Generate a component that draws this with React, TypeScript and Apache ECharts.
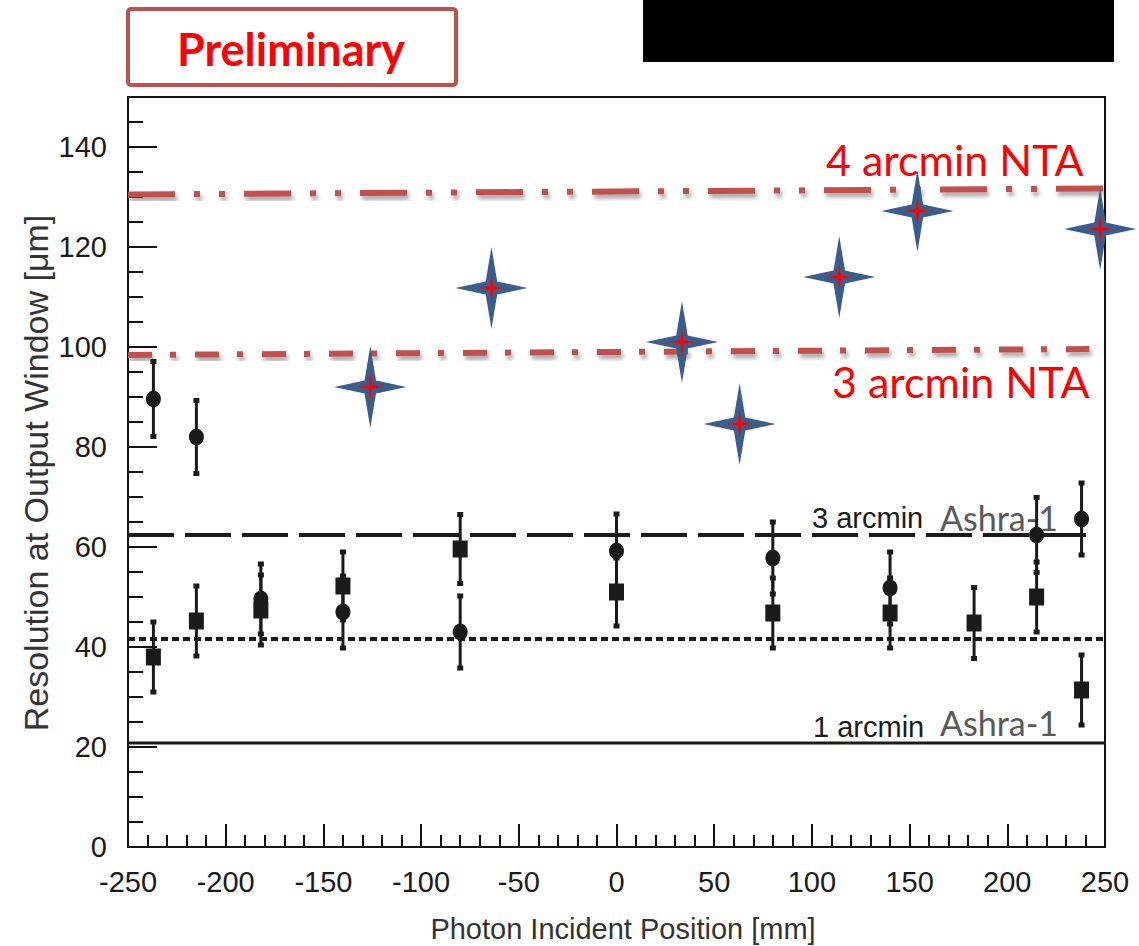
import React, { useEffect, useRef } from 'react';
import * as echarts from 'echarts';

// ---- data ----
const xMin = -250;
const xMax = 250;
const yMin = 0;
const yMax = 150;
const yMajorTicks = [0, 20, 40, 60, 80, 100, 120, 140];

const circleX = [-237, -215, -182, -140, -80, 0, 80, 140, 215, 238];
const circleY = [89.6, 82, 49.6, 47, 43, 59.2, 57.8, 51.8, 62.4, 65.6];
const circleErr = [7.5, 7.3, 7, 7.2, 7.2, 7.4, 7.2, 7.2, 7.5, 7.2];

const squareX = [-237, -215, -182, -140, -80, 0, 80, 140, 183, 215, 238];
const squareY = [38, 45.2, 47.4, 52.2, 59.6, 51, 46.8, 46.8, 44.8, 50, 31.4];
const squareErr = [7, 7, 7, 6.8, 6.9, 6.8, 7, 7, 7.1, 7, 7];

const starX = [-126, -64, 33.5, 63, 114, 154, 247.5];
const starY = [92, 111.8, 101, 84.6, 114, 127.2, 123.6];

const nta4Line = [[-250, 130.5], [250, 131.7]];
const nta3Line = [[-250, 98.4], [242, 99.6]];
const ashra3Line = [[-250, 62.4], [244.5, 62.4]];
const dottedLine = [[-250, 41.6], [250, 41.6]];
const ashra1Line = [[-250, 20.8], [250, 20.8]];

const BLUE_STAR = 'path://M50 0 L58 42 L100 50 L58 58 L50 100 L42 58 L0 50 L42 42 Z';
const RED_STAR = 'path://M50 0 L56 44 L100 50 L56 56 L50 100 L44 56 L0 50 L44 44 Z';

const SANS = "'Liberation Sans', Arial, sans-serif";
const CAL = "Lato, 'Open Sans', sans-serif";
const INK = '#1a1a1a';
const RED_LINE = '#C0504D';

function renderErr(_params: any, api: any) {
  const x = api.value(0);
  const y = api.value(1);
  const e = api.value(2);
  const top = api.coord([x, y + e]);
  const bot = api.coord([x, y - e]);
  const cw = 6;
  const ch = 5;
  return {
    type: 'group',
    children: [
      { type: 'line', shape: { x1: top[0], y1: top[1], x2: bot[0], y2: bot[1] }, style: { stroke: INK, lineWidth: 3 } },
      { type: 'rect', shape: { x: top[0] - cw / 2, y: top[1] - ch / 2, width: cw, height: ch }, style: { fill: INK } },
      { type: 'rect', shape: { x: bot[0] - cw / 2, y: bot[1] - ch / 2, width: cw, height: ch }, style: { fill: INK } },
    ],
  };
}

function lineSeries(data: number[][], color: string, width: number, dash: any, shadow: boolean) {
  return {
    type: 'line',
    data,
    symbol: 'none',
    silent: true,
    z: 1,
    lineStyle: {
      color,
      width,
      type: dash,
      cap: 'butt',
      opacity: 1,
      ...(shadow
        ? { shadowColor: 'rgba(0,0,0,0.35)', shadowBlur: 4, shadowOffsetX: 2, shadowOffsetY: 4 }
        : {}),
    },
  };
}

export default function App() {
  const ref = useRef<HTMLDivElement>(null);

  useEffect(() => {
    if (!ref.current) return;
    const chart = echarts.init(ref.current, undefined, { renderer: 'svg' });
    const tickStyle = { color: '#111', width: 2 };
    const option: any = {
      animation: false,
      backgroundColor: '#ffffff',
      grid: {
        left: 128,
        right: 34,
        top: 97,
        bottom: 99,
        show: true,
        borderColor: '#111',
        borderWidth: 2,
        backgroundColor: 'transparent',
      },
      xAxis: {
        type: 'value',
        min: xMin,
        max: xMax,
        interval: 50,
        axisLine: { show: false, onZero: false },
        axisTick: { show: true, inside: true, length: 23, lineStyle: tickStyle },
        minorTick: { show: true, splitNumber: 5, length: 12, lineStyle: tickStyle },
        splitLine: { show: false },
        axisLabel: {
          show: true,
          margin: 20,
          fontFamily: SANS,
          fontSize: 29,
          color: INK,
          showMinLabel: true,
          showMaxLabel: true,
        },
      },
      yAxis: [
        {
          type: 'value',
          min: yMin,
          max: yMax,
          interval: 5,
          position: 'left',
          axisLine: { show: false, onZero: false },
          axisTick: { show: true, inside: true, length: 15, lineStyle: tickStyle },
          splitLine: { show: false },
          axisLabel: { show: false },
        },
        {
          type: 'value',
          min: yMin,
          max: yMax,
          interval: 20,
          position: 'left',
          offset: 0,
          axisLine: { show: false, onZero: false },
          axisTick: { show: true, inside: true, length: 29, lineStyle: tickStyle },
          splitLine: { show: false },
          axisLabel: {
            show: true,
            margin: 21,
            fontFamily: SANS,
            fontSize: 29,
            color: INK,
            padding: [10, 0, 0, 0],
            formatter: (v: number) => (yMajorTicks.indexOf(v) >= 0 ? String(v) : ''),
          },
        },
      ],
      graphic: [
        { type: 'rect', shape: { x: 643, y: 0, width: 471, height: 62 }, style: { fill: '#000' } },
        {
          type: 'rect',
          shape: { x: 128, y: 9, width: 328, height: 76, r: 3 },
          style: { fill: '#fff', stroke: RED_LINE, lineWidth: 4 },
        },
        {
          type: 'text',
          x: 291,
          y: 49,
          style: {
            text: 'Preliminary',
            fontFamily: CAL,
            fontWeight: 'bold',
            fontSize: 45,
            fill: '#FF0000',
            textAlign: 'center',
            textVerticalAlign: 'middle',
          },
        },
        {
          type: 'text',
          x: 36,
          y: 473,
          rotation: Math.PI / 2,
          style: {
            text: 'Resolution at Output Window [\u03bcm]',
            fontFamily: SANS,
            fontSize: 34,
            fill: '#333',
            textAlign: 'center',
            textVerticalAlign: 'middle',
          },
        },
        {
          type: 'text',
          x: 623,
          y: 929,
          style: {
            text: 'Photon Incident Position [mm]',
            fontFamily: SANS,
            fontSize: 29,
            fill: '#333',
            textAlign: 'center',
            textVerticalAlign: 'middle',
          },
        },
        {
          type: 'text',
          x: 826,
          y: 159,
          style: { text: '4 arcmin NTA', fontFamily: CAL, fontSize: 43, fill: '#FF0000', textAlign: 'left', textVerticalAlign: 'middle' },
        },
        {
          type: 'text',
          x: 832,
          y: 381,
          style: { text: '3 arcmin NTA', fontFamily: CAL, fontSize: 43, fill: '#FF0000', textAlign: 'left', textVerticalAlign: 'middle' },
        },
        {
          type: 'text',
          x: 812,
          y: 518,
          style: { text: '3 arcmin', fontFamily: SANS, fontSize: 29, fill: INK, textAlign: 'left', textVerticalAlign: 'middle' },
        },
        {
          type: 'text',
          x: 940,
          y: 517,
          style: { text: 'Ashra-1', fontFamily: CAL, fontSize: 34, fill: '#595959', textAlign: 'left', textVerticalAlign: 'middle' },
        },
        {
          type: 'text',
          x: 813,
          y: 727,
          style: { text: '1 arcmin', fontFamily: SANS, fontSize: 29, fill: INK, textAlign: 'left', textVerticalAlign: 'middle' },
        },
        {
          type: 'text',
          x: 940,
          y: 722,
          style: { text: 'Ashra-1', fontFamily: CAL, fontSize: 34, fill: '#595959', textAlign: 'left', textVerticalAlign: 'middle' },
        },
      ],
      series: [
        lineSeries(nta4Line, RED_LINE, 6, [47, 19, 6, 19, 6, 19], true),
        lineSeries(nta3Line, RED_LINE, 6, [24, 18, 6, 19], true),
        lineSeries(ashra3Line, INK, 4, [46, 11], false),
        lineSeries(dottedLine, INK, 4, [7, 4], false),
        lineSeries(ashra1Line, INK, 3, 'solid', false),
        {
          type: 'custom',
          renderItem: renderErr,
          data: squareX.map((x, i) => [x, squareY[i], squareErr[i]]),
          encode: { x: 0, y: 1 },
          silent: true,
          z: 3,
        },
        {
          type: 'custom',
          renderItem: renderErr,
          data: circleX.map((x, i) => [x, circleY[i], circleErr[i]]),
          encode: { x: 0, y: 1 },
          silent: true,
          z: 3,
        },
        {
          type: 'scatter',
          data: squareX.map((x, i) => [x, squareY[i]]),
          symbol: 'rect',
          symbolSize: [15, 17],
          itemStyle: { color: INK, opacity: 1 },
          silent: true,
          z: 4,
        },
        {
          type: 'scatter',
          data: circleX.map((x, i) => [x, circleY[i]]),
          symbol: 'circle',
          symbolSize: [15, 17],
          itemStyle: { color: INK, opacity: 1 },
          silent: true,
          z: 5,
        },
        {
          type: 'scatter',
          data: starX.map((x, i) => [x, starY[i]]),
          symbol: BLUE_STAR,
          symbolSize: [72, 82],
          itemStyle: { color: '#3A5D8C', opacity: 1 },
          silent: true,
          z: 6,
        },
        {
          type: 'scatter',
          data: starX.map((x, i) => [x, starY[i]]),
          symbol: RED_STAR,
          symbolSize: [26, 30],
          itemStyle: { color: '#FF0000', opacity: 1 },
          silent: true,
          z: 7,
        },
      ],
    };
    chart.setOption(option);
    return () => {
      chart.dispose();
    };
  }, []);

  return (
    <div
      ref={ref}
      style={{ position: 'fixed', left: 0, top: 0, width: 1139, height: 946, background: '#fff' }}
    />
  );
}
